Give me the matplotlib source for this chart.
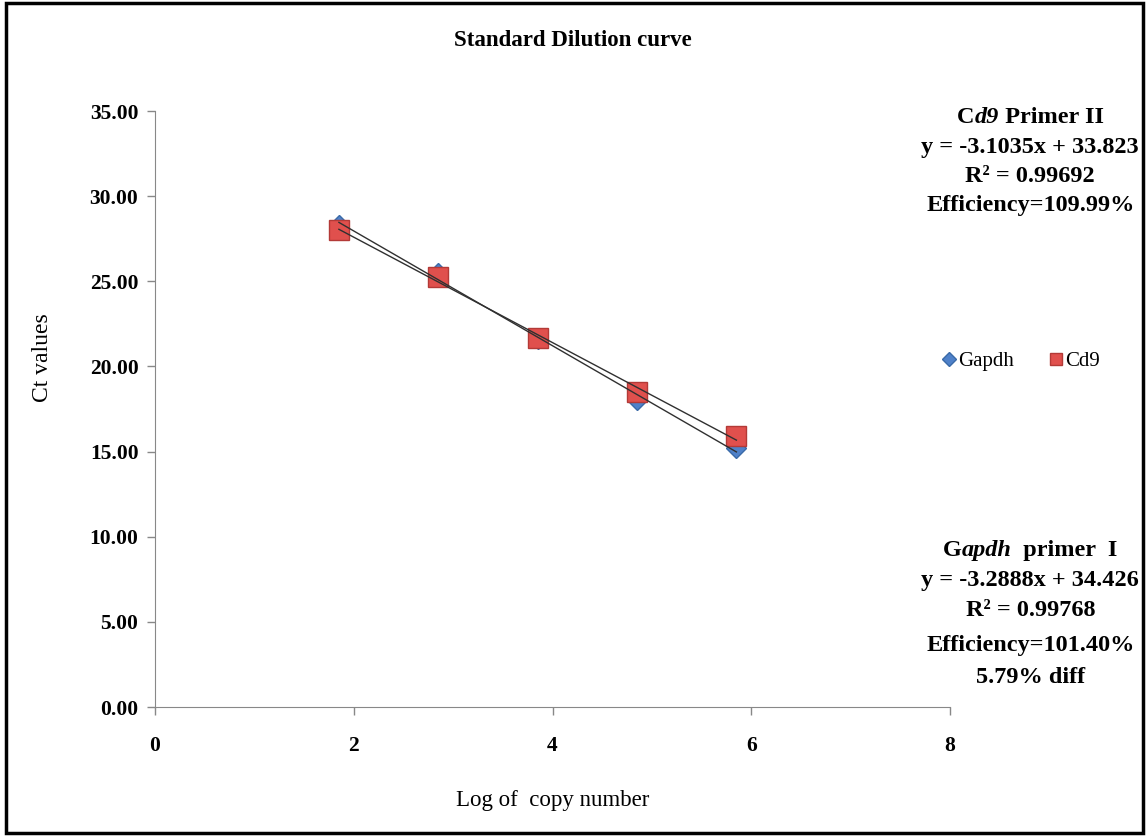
import numpy as np
import matplotlib
matplotlib.use('Agg')
import matplotlib.pyplot as plt
from matplotlib.patches import Rectangle
from matplotlib.lines import Line2D

# Dati
log_copy = [1.85, 2.85, 3.85, 4.85, 5.85]
ct_gapdh = [28.3, 25.5, 21.6, 18.0, 15.2]
ct_cd9 = [28.0, 25.25, 21.67, 18.5, 15.9]

plt.rcParams['font.family'] = ['Liberation Serif', 'DejaVu Serif']

blue, blue_e = '#4F81C9', '#3A6AA8'
red, red_e = '#E0504D', '#B33A37'

fig = plt.figure(figsize=(11.46, 8.36), dpi=100)
ax = fig.add_axes([0.1353, 0.1543, 0.6937, 0.7129])

# punti
ax.plot(log_copy, ct_gapdh, linestyle='none', marker='D', markersize=10,
        color=blue, markeredgecolor=blue_e, zorder=3)
ax.plot(log_copy, ct_cd9, linestyle='none', marker='s', markersize=14,
        color=red, markeredgecolor=red_e, zorder=4)

# linee di tendenza
xs = np.array([log_copy[0], log_copy[-1]])
for ys in (ct_gapdh, ct_cd9):
    m, q = np.polyfit(log_copy, ys, 1)
    ax.plot(xs, m * xs + q, color='#303030', lw=1.0, zorder=5)

ax.set_xlim(0, 8)
ax.set_ylim(0, 35)
ax.set_xticks([0, 2, 4, 6, 8])
ax.set_yticks(np.arange(0, 36, 5))
ax.set_yticklabels([f'{v:.2f}' for v in np.arange(0, 36, 5)])
for lab in ax.get_xticklabels() + ax.get_yticklabels():
    lab.set_fontweight('bold')
    lab.set_fontsize(15.5)
ax.tick_params(axis='both', direction='out', length=6, color='#888888', width=1)
ax.tick_params(axis='y', pad=6)
ax.tick_params(axis='x', pad=15)
for s in ['top', 'right']:
    ax.spines[s].set_visible(False)
for s in ['left', 'bottom']:
    ax.spines[s].set_color('#888888')

ax.set_xlabel('Log of  copy number', fontsize=16.5, labelpad=24)
ax.set_ylabel('Ct values', fontsize=17)
ax.yaxis.set_label_coords(-0.128, 0.586)
fig.text(0.5, 0.952, 'Standard Dilution curve', fontsize=16.5, fontweight='bold',
         ha='center', va='center')

handles = [Line2D([], [], ls='none', marker='D', markersize=7, color=blue,
                  markeredgecolor=blue_e, label='Gapdh'),
           Line2D([], [], ls='none', marker='s', markersize=9, color=red,
                  markeredgecolor=red_e, label='Cd9')]
fig.legend(handles=handles, loc='center', bbox_to_anchor=(0.89, 0.568), ncol=2,
           frameon=False, handletextpad=0.05, columnspacing=1.6, handlelength=0.8,
           prop={'size': 15})

# annotazioni
cx = 0.899
txt_kw = dict(fontsize=17.5, fontweight='bold', va='center')


def mixed_line(y, parts):
    # parti (testo, stile) affiancate e centrate su cx
    texts = [fig.text(0, y, s, fontstyle=st, ha='left', **txt_kw) for s, st in parts]
    fig.canvas.draw()
    r = fig.canvas.get_renderer()
    widths = [t.get_window_extent(r).width / fig.bbox.width for t in texts]
    x = cx - sum(widths) / 2
    for t, w in zip(texts, widths):
        t.set_x(x)
        x += w


mixed_line(0.859, [('C', 'normal'), ('d9', 'italic'), (' Primer II', 'normal')])
fig.text(cx, 0.824, 'y = -3.1035x + 33.823', ha='center', **txt_kw)
fig.text(cx, 0.789, 'R² = 0.99692', ha='center', **txt_kw)
fig.text(cx, 0.754, 'Efficiency=109.99%', ha='center', **txt_kw)

mixed_line(0.341, [('G', 'normal'), ('apdh', 'italic'), ('  primer  I', 'normal')])
fig.text(cx, 0.306, 'y = -3.2888x + 34.426', ha='center', **txt_kw)
fig.text(cx, 0.270, 'R² = 0.99768', ha='center', **txt_kw)
fig.text(cx, 0.228, 'Efficiency=101.40%', ha='center', **txt_kw)
fig.text(cx, 0.190, '5.79% diff', ha='center', **txt_kw)

fig.add_artist(Rectangle((0.005, 0.003), 0.992, 0.994, transform=fig.transFigure,
                         fill=False, lw=2.5, ec='black'))

fig.savefig('out.png', dpi=100)
